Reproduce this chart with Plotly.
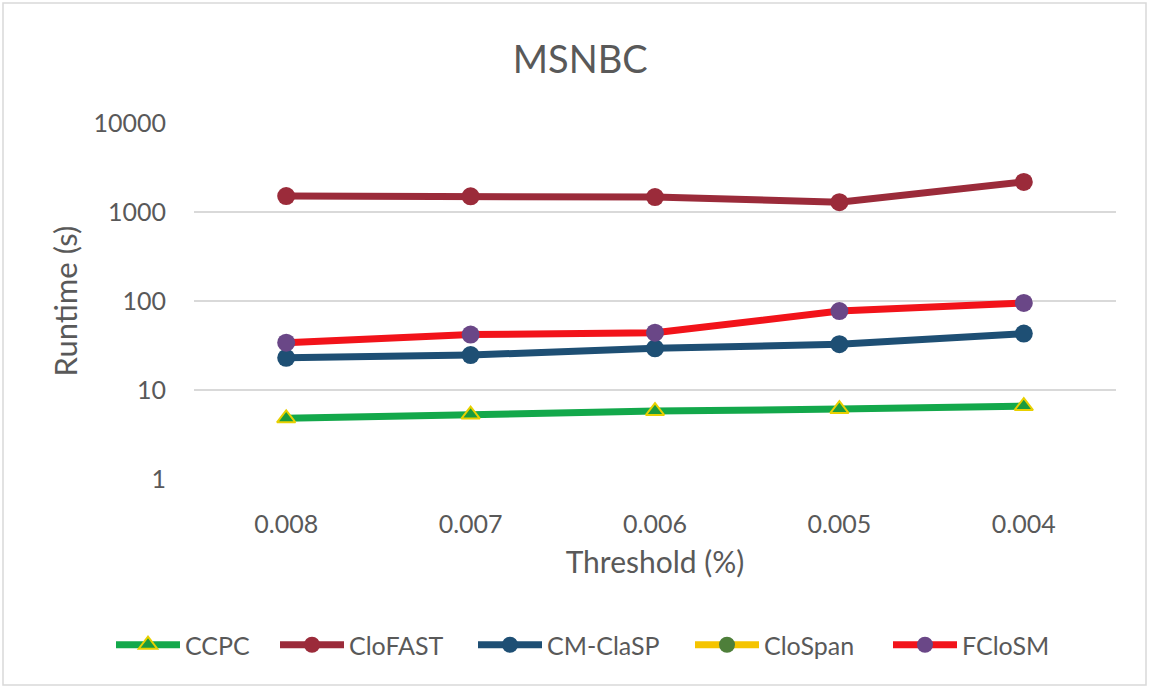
import plotly.graph_objects as go

# Runtime (seconds) per support threshold on the MSNBC dataset
thresholds = ["0.008", "0.007", "0.006", "0.005", "0.004"]
ccpc = [4.8, 5.3, 5.8, 6.1, 6.6]
clofast = [1510, 1500, 1470, 1290, 2180]
cm_clasp = [23, 24.7, 29.4, 32.7, 43]
clospan = [None, None, None, None, None]
fclosm = [34, 42, 44, 77, 95]

FONT = "Lato, 'Open Sans', sans-serif"
GREY = "#595959"
W, H = 1149, 688

fig = go.Figure()

series = [
    ("CCPC", ccpc, "#13A84B", dict(symbol="triangle-up", size=16, color="#1A9B3E",
                                   line=dict(color="#E8D000", width=2))),
    ("CloFAST", clofast, "#9B2B3A", dict(symbol="circle", size=18, color="#9B2B3A")),
    ("CM-ClaSP", cm_clasp, "#1E4F74", dict(symbol="circle", size=18, color="#1E4F74")),
    ("CloSpan", clospan, "#F5C400", dict(symbol="circle", size=18, color="#4E7F3A")),
    ("FCloSM", fclosm, "#F2131A", dict(symbol="circle", size=18, color="#6A4787")),
]

# one legend box per series so the entries sit at their own x positions
legend_ids = ["legend", "legend2", "legend3", "legend4", "legend5"]
legend_x = [111, 275, 473, 690, 888]

for (name, vals, col, mk), lid in zip(series, legend_ids):
    fig.add_trace(go.Scatter(
        x=thresholds, y=vals, name=name, mode="lines+markers",
        line=dict(color=col, width=7), marker=mk, legend=lid,
    ))

legend_layout = {}
for lid, lx in zip(legend_ids, legend_x):
    legend_layout[lid] = dict(
        orientation="h", x=lx / W, xanchor="left", xref="container",
        y=1 - 645 / H, yanchor="middle", yref="container",
        bgcolor="rgba(0,0,0,0)",
        font=dict(size=25, color=GREY, family=FONT), itemwidth=64,
    )

fig.update_layout(
    width=W, height=H,
    margin=dict(l=194, r=33, t=123, b=209),
    paper_bgcolor="white", plot_bgcolor="white",
    font=dict(family=FONT, color=GREY, size=24),
    title=dict(text="MSNBC", x=0.505, xref="container", xanchor="center",
               y=1 - 60 / H, yanchor="middle",
               font=dict(size=38, color=GREY, family=FONT)),
    showlegend=True,
    xaxis=dict(type="category", range=[-0.5, 4.5], showgrid=False, zeroline=False,
               showline=False, ticks="", ticklabelstandoff=28, tickangle=0,
               automargin=True, tickfont=dict(size=25, color=GREY),
               title=dict(text="Threshold (%)", standoff=14,
                          font=dict(size=30, color=GREY))),
    yaxis=dict(type="log", range=[0, 4], showgrid=True, automargin=True,
               gridcolor="#D9D9D9", gridwidth=2, zeroline=False, showline=False,
               tickvals=[1, 10, 100, 1000, 10000],
               ticktext=["1", "10", "100", "1000", "10000"],
               ticks="", ticklabelstandoff=27, tickfont=dict(size=25, color=GREY),
               title=dict(text="Runtime (s)", standoff=6,
                          font=dict(size=31, color=GREY))),
    **legend_layout,
)

# Light frame around the whole chart area
fig.add_shape(type="rect", xref="paper", yref="paper",
              x0=(3 - 194) / 922, x1=(1146 - 194) / 922,
              y0=(H - 685 - 209) / 356, y1=(H - 3 - 209) / 356,
              line=dict(color="#D9D9D9", width=1.5), fillcolor="rgba(0,0,0,0)",
              layer="below")

fig.write_html("out.html")
